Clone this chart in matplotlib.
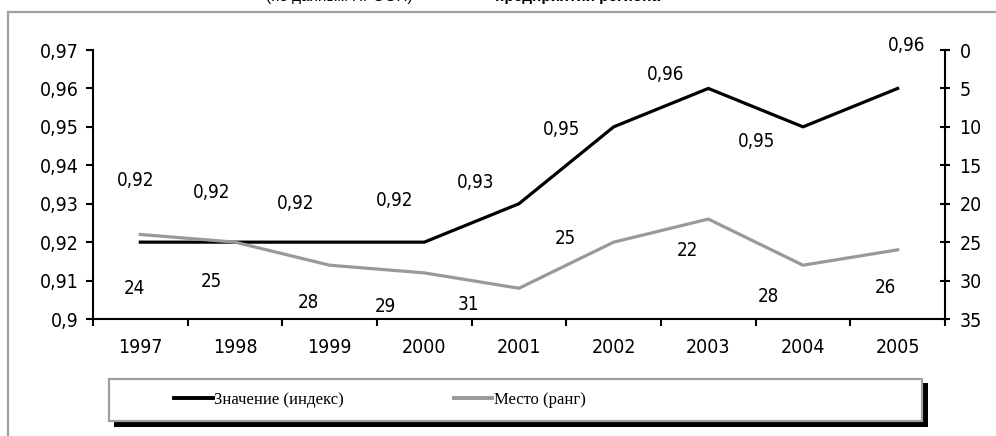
import matplotlib
matplotlib.use("Agg")
import matplotlib.pyplot as plt
from matplotlib.patches import Rectangle
from matplotlib.lines import Line2D
from matplotlib.ticker import FixedLocator, FuncFormatter
from matplotlib.font_manager import FontProperties

years = ["1997", "1998", "1999", "2000", "2001", "2002", "2003", "2004", "2005"]
index_values = [0.92, 0.92, 0.92, 0.92, 0.93, 0.95, 0.96, 0.95, 0.96]
rank_values = [24, 25, 28, 29, 31, 25, 22, 28, 26]
series_names = ["Значение (индекс)", "Место (ранг)"]
left_ticks = [0.90, 0.91, 0.92, 0.93, 0.94, 0.95, 0.96, 0.97]
right_ticks = [0, 5, 10, 15, 20, 25, 30, 35]

# label offsets in pixels (layout)
index_label_off = [(-5, 62), (-23, 50), (-34, 39), (-30, 42), (-43, 21),
                   (-52, -3), (-43, 14), (-46, -15), (9, 43)]
rank_label_off = [(-6, -54), (-24, -39), (-21, -37), (-39, -34), (-51, -16),
                  (-48, 4), (-21, -31), (-35, -31), (-12, -38)]

W, H = 996, 436
fig = plt.figure(figsize=(W / 100, H / 100), dpi=100)
fig.patch.set_facecolor("white")


def narrow(size):
    return FontProperties(family=["DejaVu Sans"], stretch="condensed", size=size)


def fx(px):
    return px / W


def fy(py):
    return 1 - py / H


# outer chart frame (partly outside the image)
fig.patches.append(Rectangle((fx(8), fy(460)), fx(1100), fy(12) - fy(460),
                             transform=fig.transFigure, fill=False,
                             edgecolor="#a0a0a0", lw=1.6))

# clipped title (only its lowest part is inside the picture)
fig.text(fx(266), fy(0.5), "(по данным ПРООН)", fontsize=11,
         family=["Liberation Sans", "DejaVu Sans"], va="baseline", ha="left")
fig.text(fx(495), fy(0.5), "предприятий региона", fontsize=11, fontweight="bold",
         family=["Liberation Sans", "DejaVu Sans"], va="baseline", ha="left")

ax = fig.add_axes([fx(93), fy(319), fx(945) - fx(93), fy(50) - fy(319)])
ax2 = ax.twinx()

x = list(range(len(years)))
ax.plot(x, index_values, color="black", lw=2.3, zorder=3)
ax2.plot(x, rank_values, color="#999999", lw=2.3, zorder=2)

ax.set_xlim(-0.5, len(years) - 0.5)
ax.set_ylim(0.90, 0.97)
ax2.set_ylim(35, 0)

ax.yaxis.set_major_locator(FixedLocator(left_ticks))
ax.yaxis.set_major_formatter(FuncFormatter(
    lambda v, p: (f"{v:.2f}".rstrip("0")).replace(".", ",")))
ax2.yaxis.set_major_locator(FixedLocator(right_ticks))

ax.xaxis.set_major_locator(FixedLocator([i - 0.5 for i in range(len(years) + 1)]))
ax.xaxis.set_major_formatter(FuncFormatter(lambda v, p: ""))
ax.xaxis.set_minor_locator(FixedLocator(x))
ax.set_xticklabels(years, minor=True)

for a in (ax, ax2):
    for s in a.spines.values():
        s.set_linewidth(1.5)
        s.set_color("black")
    a.spines["top"].set_visible(False)
    a.set_facecolor("none")
ax.spines["right"].set_visible(False)
ax2.spines["left"].set_visible(False)
ax2.spines["bottom"].set_visible(False)

ax.tick_params(axis="y", direction="out", length=5, width=1.5, pad=5)
ax.tick_params(axis="x", which="major", direction="out", length=5, width=1.5)
ax.tick_params(axis="x", which="minor", length=0, pad=14)
ax2.tick_params(axis="y", direction="inout", length=7, width=1.5, pad=7)

for lbl in (ax.get_yticklabels() + ax.get_xticklabels(minor=True)
            + ax2.get_yticklabels()):
    lbl.set_fontproperties(narrow(14))

for i, v in enumerate(index_values):
    ax.annotate(f"{v:.2f}".replace(".", ","), (i, v), xytext=index_label_off[i],
                textcoords="offset pixels", ha="center", va="center",
                fontproperties=narrow(13.5), zorder=5)
for i, v in enumerate(rank_values):
    ax2.annotate(str(v), (i, v), xytext=rank_label_off[i],
                 textcoords="offset pixels", ha="center", va="center",
                 fontproperties=narrow(13.5), zorder=5)

# legend box with shadow
fig.patches.append(Rectangle((fx(114), fy(427)), fx(928) - fx(114), fy(383) - fy(427),
                             transform=fig.transFigure, facecolor="black",
                             edgecolor="none", zorder=1))
fig.patches.append(Rectangle((fx(109), fy(421)), fx(922) - fx(109), fy(379) - fy(421),
                             transform=fig.transFigure, facecolor="white",
                             edgecolor="#a0a0a0", lw=1.6, zorder=2))
handles = [Line2D([], [], color="black", lw=2.8),
           Line2D([], [], color="#999999", lw=2.8)]
leg = fig.legend(handles, series_names, loc="center left",
                 bbox_to_anchor=(fx(166), fy(400)), ncol=2, frameon=False,
                 prop={"family": ["Liberation Serif", "DejaVu Serif"], "size": 12},
                 handlelength=2.3, handletextpad=0.1, columnspacing=6.6, borderpad=0)
leg.set_zorder(5)

fig.savefig("out.png", dpi=100, facecolor="white")
